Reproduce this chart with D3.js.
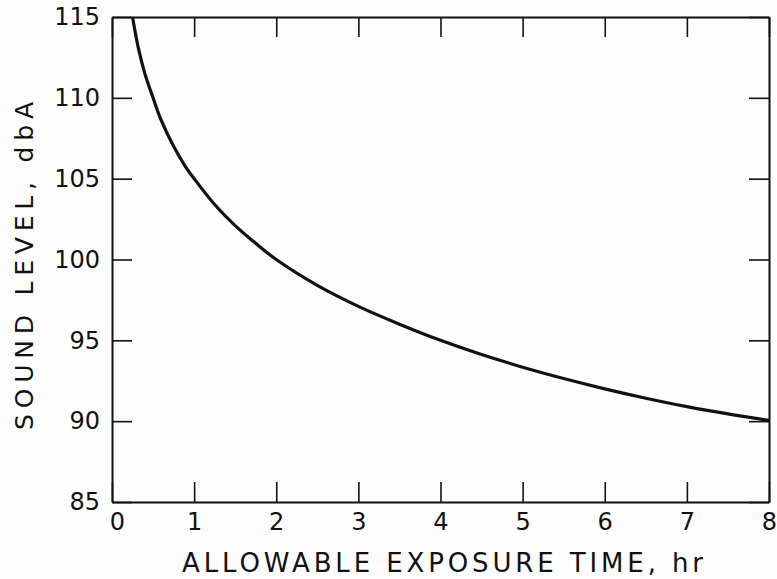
<!DOCTYPE html>
<html>
<head>
<meta charset="utf-8">
<script src="https://cdn.jsdelivr.net/npm/d3@7"></script>
<style>
  body { margin: 0; background: #fdfdfd; }
  text { font-family: "DejaVu Sans", sans-serif; fill: #111; }
</style>
</head>
<body>
<div id="chart"></div>
<script>
// allowable exposure time (hr) vs sound level (dbA)
const hours = [0.25, 0.32, 0.4, 0.5, 0.6, 0.75, 0.9, 1, 1.25, 1.5, 1.75, 2, 2.5, 3, 3.5, 4, 4.5, 5, 5.5, 6, 6.5, 7, 7.5, 8];
const soundLevel = [115, 113.1, 111.5, 110, 108.6, 107.0, 105.7, 105, 103.4, 102.1, 101.0, 100, 98.4, 97.1, 96.0, 95.0, 94.12, 93.34, 92.64, 92.0, 91.42, 90.9, 90.45, 90.05];
const xTicks = [0, 1, 2, 3, 4, 5, 6, 7, 8];
const yTicks = [85, 90, 95, 100, 105, 110, 115];

const width = 777, height = 579;
const plotLeft = 112, plotRight = 769, plotTop = 17, plotBottom = 502;

const svg = d3.select("#chart").append("svg")
    .attr("width", width)
    .attr("height", height);

const x = d3.scaleLinear().domain([0, 8]).range([plotLeft, plotRight]);
const y = d3.scaleLinear().domain([85, 115]).range([plotBottom, plotTop]);

// frame + inward ticks on all four sides
function styleAxis(g) {
  g.select(".domain").attr("stroke", "#111").attr("stroke-width", 2);
  g.selectAll(".tick line").attr("stroke", "#111").attr("stroke-width", 1.6);
  g.selectAll(".tick text").attr("fill", "#111").style("font-size", "24px");
}

svg.append("g")
    .attr("transform", "translate(0," + plotBottom + ")")
    .call(d3.axisBottom(x).tickValues(xTicks).tickFormat(d3.format("d"))
      .tickSizeInner(-20).tickSizeOuter(0).tickPadding(11))
    .call(styleAxis)
    .call(g => g.selectAll(".tick text").attr("dx", (d) => d === 0 ? 5 : 0));

svg.append("g")
    .attr("transform", "translate(" + plotLeft + ",0)")
    .call(d3.axisLeft(y).tickValues(yTicks)
      .tickSizeInner(-20).tickSizeOuter(0).tickPadding(12))
    .call(styleAxis);

svg.append("g")
    .attr("transform", "translate(0," + plotTop + ")")
    .call(d3.axisTop(x).tickValues(xTicks).tickFormat("")
      .tickSizeInner(-20).tickSizeOuter(0))
    .call(styleAxis);

svg.append("g")
    .attr("transform", "translate(" + plotRight + ",0)")
    .call(d3.axisRight(y).tickValues(yTicks).tickFormat("")
      .tickSizeInner(-20).tickSizeOuter(0))
    .call(styleAxis);

// curve
const line = d3.line()
    .x((d, i) => x(hours[i]))
    .y((d) => y(d))
    .curve(d3.curveCatmullRom.alpha(0.5));

svg.append("path")
    .datum(soundLevel)
    .attr("fill", "none")
    .attr("stroke", "#111")
    .attr("stroke-width", 3.2)
    .attr("d", line);

// axis titles
svg.append("text")
    .attr("x", 182)
    .attr("y", 572)
    .attr("textLength", 521)
    .attr("lengthAdjust", "spacing")
    .style("font-size", "26px")
    .text("ALLOWABLE EXPOSURE TIME, hr");

svg.append("text")
    .attr("transform", "translate(33,430) rotate(-90)")
    .attr("textLength", 328)
    .attr("lengthAdjust", "spacing")
    .style("font-size", "25px")
    .text("SOUND LEVEL, dbA");
</script>
</body>
</html>
